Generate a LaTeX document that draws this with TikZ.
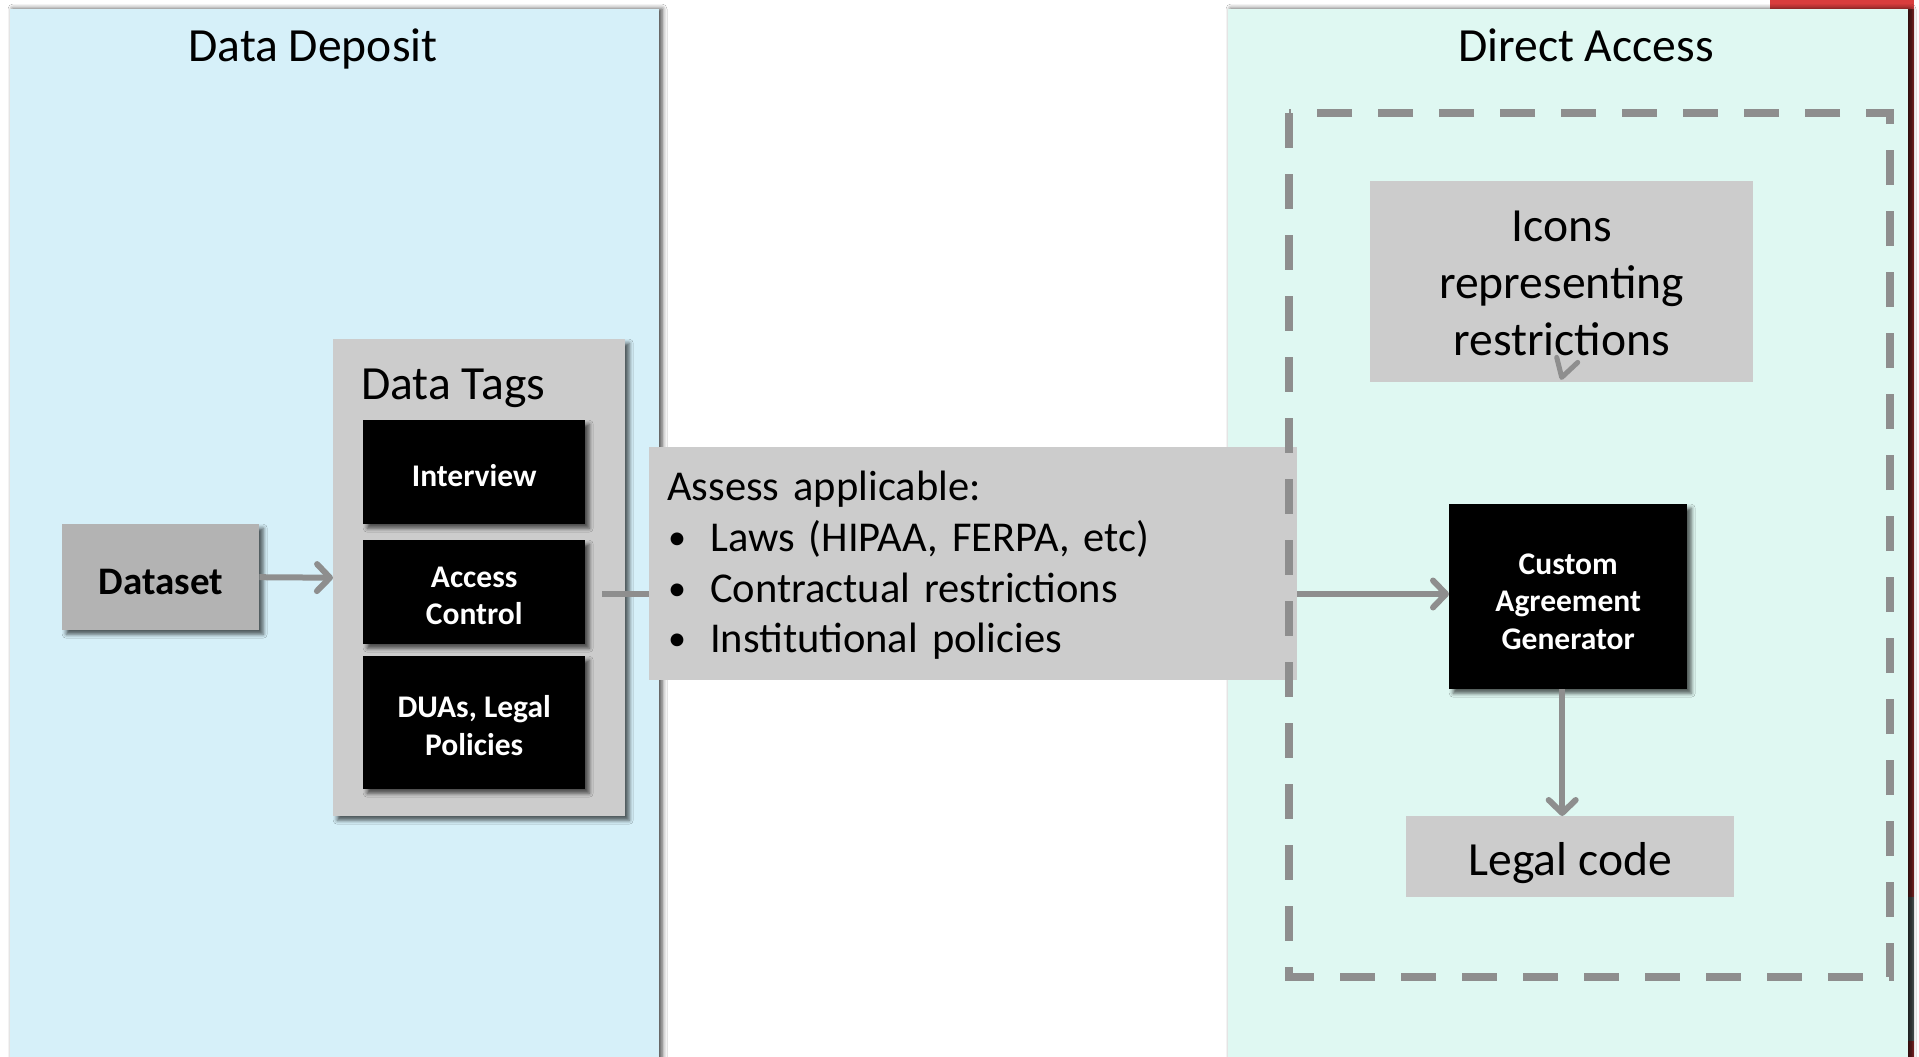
\documentclass[tikz,border=0pt]{standalone}
\usepackage{fontspec}
\usepackage{graphicx}
\setmainfont{Carlito}
\usetikzlibrary{arrows.meta,shadows.blur,calc}

\definecolor{depositbg}{HTML}{D6F0F9}
\definecolor{accessbg}{HTML}{DFF8F2}
\definecolor{boxgray}{HTML}{CCCCCC}
\definecolor{datasetgray}{HTML}{B3B3B3}
\definecolor{linkgray}{HTML}{8E8E8E}
\definecolor{tabred}{HTML}{D93D3D}
\definecolor{tabdark}{HTML}{7C2424}
\definecolor{tabslate}{HTML}{4C5454}

\newcommand\dgTitle{\fontsize{47.6}{57}\selectfont}
\newcommand\dgList{\fontsize{42.5}{50.7}\selectfont}
\newcommand\dgTag{\fontsize{31.5}{37.5}\selectfont\bfseries}
\newcommand\dgSet{\fontsize{39}{47}\selectfont\bfseries}
% stacked lines, lowered by #2 without changing the box size
\newcommand\dgLines[3][c]{\raisebox{-#2}[\height][\depth]{\begin{tabular}{@{}#1@{}}#3\end{tabular}}}
\newcommand\dgBullet{\makebox[43pt][l]{\hspace*{1pt}\raisebox{2pt}{\scalebox{0.85}{\textbullet}}}}

\tikzset{
  panel/.style={fill=#1, draw=none,
    blur shadow={shadow xshift=3pt, shadow yshift=0pt, shadow blur radius=5pt, shadow opacity=75}},
  softshadow/.style={blur shadow={shadow xshift=4pt, shadow yshift=-4pt, shadow blur radius=4pt, shadow opacity=65}},
  graybox/.style={fill=boxgray, draw=none, inner sep=0pt, anchor=north west, align=center},
  tagbox/.style={fill=black, text=white, font=\dgTag, align=center, inner sep=0pt,
    anchor=north west, softshadow},
  link/.style={draw=linkgray, line width=6pt},
  arrowlink/.style={link, -{Straight Barb[length=13pt, width=27pt, round]}},
  dashframe/.style={draw=linkgray, line width=8pt, dash pattern=on 35pt off 26pt},
}

\begin{document}
\begin{tikzpicture}[x=1pt, y=-1pt]
  % page
  \fill[white] (0,0) rectangle (1919,1057);
  \useasboundingbox (0,0) rectangle (1919,1057);

  % red tab behind the right panel
  \fill[tabred] (1770,0) rectangle (1914,1057);
  \fill[tabdark] (1908,9) rectangle (1914,1057);
  \fill[tabslate] (1908,897) rectangle (1914,1041);

  % the two panels
  \path[panel=depositbg] (10,9) rectangle (659,1075);
  \path[panel=accessbg] (1228,9) rectangle (1908,1075);
  \node[font=\dgTitle] (depositTitle) at (313,49) {Data Deposit};
  \node[font=\dgTitle] (accessTitle) at (1586,45) {Direct Access};

  % data deposit side
  \node[graybox, fill=datasetgray, font=\dgSet, minimum width=197pt, minimum height=106pt, softshadow]
    (dataset) at (62,524) {\dgLines{7.5pt}{Dataset}};
  \node[graybox, minimum width=292pt, minimum height=477pt, softshadow] (tags) at (333,339) {};
  \node[font=\dgTitle, anchor=west, inner sep=0pt] (tagsTitle) at (361,388) {Data Tags};
  \node[tagbox, minimum width=222pt, minimum height=104pt] (interview) at (363,420)
    {\dgLines{6.5pt}{Interview}};
  \node[tagbox, minimum width=222pt, minimum height=104pt] (access) at (363,540)
    {\dgLines{6.5pt}{Access\\Control}};
  \node[tagbox, minimum width=222pt, minimum height=133pt] (duas) at (363,656)
    {\dgLines{6.5pt}{DUAs, Legal\\Policies}};

  % connectors running behind the assessment box
  \coordinate (tagout) at (602,594);
  \draw[arrowlink] (dataset.east) -- (tags.west);
  \node[tagbox, minimum width=238pt, minimum height=185pt] (custom) at (1449,504)
    {\dgLines{7.5pt}{Custom\\Agreement\\Generator}};
  \draw[arrowlink] (tagout) -- (tagout -| custom.west);

  % assessment box
  \node[graybox, minimum width=648pt, minimum height=233pt, inner xsep=18pt,
        text width=612pt, align=left, font=\dgList] (assess) at (649,447)
    {\dgLines[l]{3pt}{Assess applicable:\\
     \dgBullet Laws (HIPAA, FERPA, etc)\\
     \dgBullet Contractual restrictions\\
     \dgBullet Institutional policies}};

  % direct access side
  \draw[dashframe] (1289,113) rectangle (1890,977);
  \node[graybox, minimum width=383pt, minimum height=201pt, font=\dgTitle] (icons) at (1370,181)
    {\dgLines{5pt}{Icons\\representing\\restrictions}};
  \node[graybox, minimum width=328pt, minimum height=81pt, font=\dgTitle] (legal) at (1406,816)
    {\dgLines{7pt}{Legal code}};
  \draw[arrowlink] ($(custom.south)+(-6,0)$) -- ($(custom.south |- legal.north)+(-6,0)$);

  % loose arrow tip at the foot of the icons box
  \draw[link, line width=5pt, line cap=round, line join=round]
    ($(icons.south)+(-5,-25)$) -- ($(icons.south)+(0,-5)$) -- ($(icons.south)+(16,-20)$);
\end{tikzpicture}
\end{document}
